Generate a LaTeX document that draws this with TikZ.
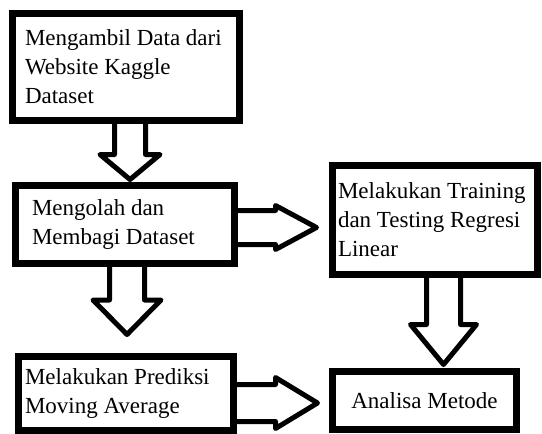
\documentclass[tikz,border=0pt]{standalone}
\usepackage{fontspec}
\setmainfont{Liberation Serif}
\usepackage{tikz}
\usetikzlibrary{positioning,calc}
\tikzstyle{flow box}=[draw,line width=7pt,inner xsep=2pt,inner ysep=0pt,font=\fontsize{23}{29}\selectfont,align=flush left]
\tikzstyle{flow arrow}=[line width=5pt,line join=round,line cap=butt]
\newcommand{\flownode}[3][]{
  \node [flow box, #1] (#2) {#3}
}
% block arrow: from, to, shift, shaft, head, head length, gap
\newcommand{\flowdown}[7]{
  \draw[flow arrow] let \p1=($(#1.south)+(#3pt,0)$), \p2=($(#2.north)+(0,#7pt)$) in
    (\x1-#4pt,\y1) -- (\x1-#4pt,\y2+#6pt) -- (\x1-#5pt,\y2+#6pt) -- (\x1,\y2)
    -- (\x1+#5pt,\y2+#6pt) -- (\x1+#4pt,\y2+#6pt) -- (\x1+#4pt,\y1)
}
\newcommand{\flowright}[7]{
  \draw[flow arrow] let \p1=($(#1.east)+(0,#3pt)$), \p2=($(#2.west)+(-#7pt,0)$) in
    (\x1,\y1+#4pt) -- (\x2-#6pt,\y1+#4pt) -- (\x2-#6pt,\y1+#5pt) -- (\x2,\y1)
    -- (\x2-#6pt,\y1-#5pt) -- (\x2-#6pt,\y1-#4pt) -- (\x1,\y1-#4pt)
}

\begin{document}
\begin{tikzpicture}[x=1pt,y=1pt]
        \useasboundingbox (0,0) rectangle (542,-434);
        \flownode[at={(126,-67)}, minimum width=227pt, minimum height=107pt, text width=202pt] {ambil}{Mengambil Data dari\\Website Kaggle\\Dataset};
        \flownode[below=58pt of ambil, xshift=-1pt, minimum width=219pt, minimum height=78pt, text width=186pt] {olah}{Mengolah dan\\Membagi Dataset};
        \flownode[right=91pt of olah, yshift=4.5pt, minimum width=205pt, minimum height=109pt, text width=194pt] {training}{Melakukan Training\\dan Testing Regresi\\Linear};
        \flownode[below=86pt of olah, xshift=1pt, minimum width=215pt, minimum height=73.5pt, text width=202pt] {prediksi}{Melakukan Prediksi\\Moving Average};
        \flownode[below=90pt of training, xshift=-10.5pt, minimum width=184pt, minimum height=58pt, align=center] {analisa}{Analisa Metode};

      \flowdown{ambil}{olah}{4}{15.5}{30}{25}{2.5};
      \flowdown{olah}{prediksi}{2}{17.5}{34}{34.5}{18.5};
      \flowdown{training}{analisa}{8.5}{17}{33}{40}{3.5};
      \flowright{olah}{training}{-3}{17}{22}{41}{12.5};
      \flowright{prediksi}{analisa}{-9.75}{18.5}{25.5}{42}{11.5};

      \end{tikzpicture}
\end{document}
